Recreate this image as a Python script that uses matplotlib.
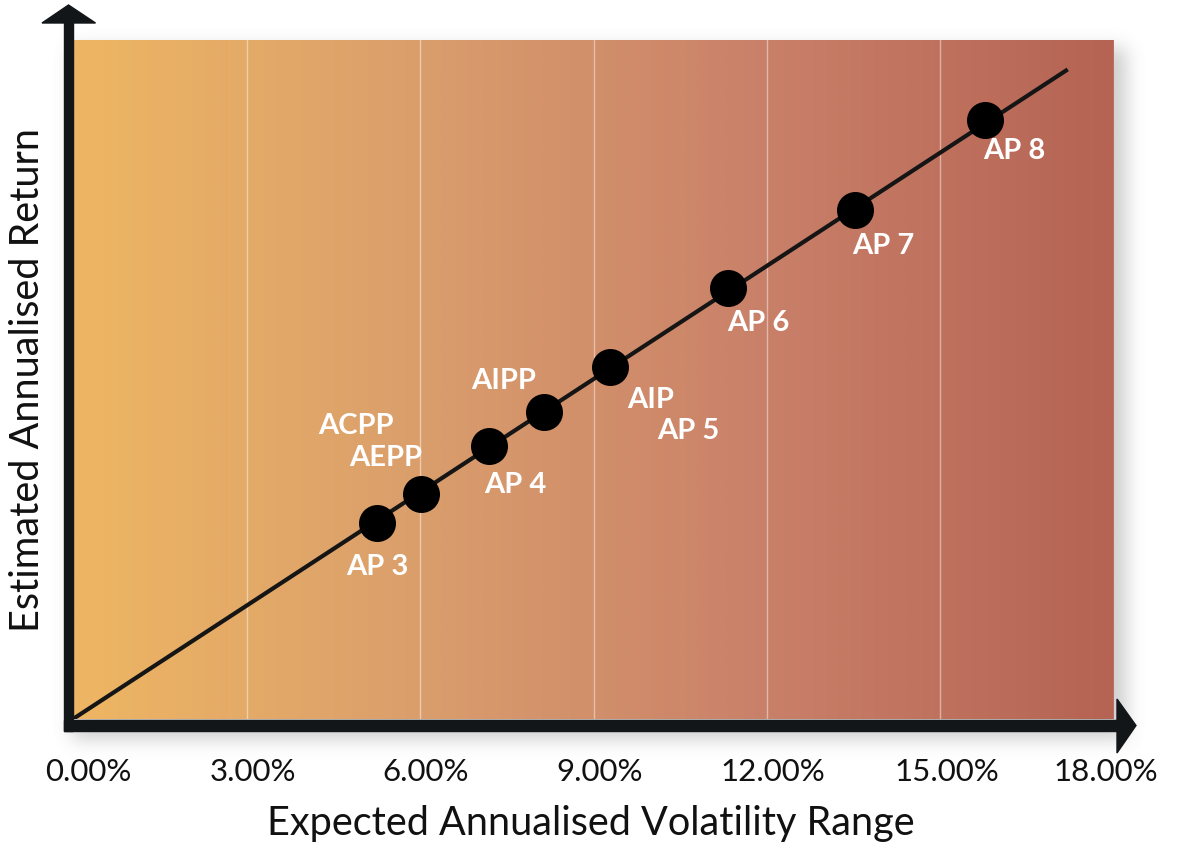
import numpy as np
import matplotlib
matplotlib.use("Agg")
import matplotlib.pyplot as plt
from matplotlib.patches import Polygon, Rectangle
from matplotlib.colors import LinearSegmentedColormap

# ---- data -------------------------------------------------------------
portfolio_names = [["AP 3"], ["ACPP", "AEPP"], ["AP 4"], ["AIPP"],
                   ["AIP", "AP 5"], ["AP 6"], ["AP 7"], ["AP 8"]]
volatility = [5.25, 6.02, 7.20, 8.15, 9.29, 11.33, 13.53, 15.77]   # %
expected_return = [3.46, 3.98, 4.83, 5.42, 6.22, 7.61, 9.00, 10.59]
trend_x = [0.0, 17.20]
trend_y = [0.0, 11.48]
x_ticks = [0, 3, 6, 9, 12, 15, 18]
x_tick_labels = ["0.00%", "3.00%", "6.00%", "9.00%", "12.00%", "15.00%", "18.00%"]
x_title = "Expected Annualised Volatility Range"
y_title = "Estimated Annualised Return"

# ---- label placement (pixel offsets from each marker) -------------------
label_offsets = {
    "AP 3": (1, -44), "ACPP": (-65, 68), "AEPP": (-36, 36),
    "AP 4": (26, -39), "AIPP": (-41, 31), "AIP": (40, -33),
    "AP 5": (78, -64), "AP 6": (30, -35), "AP 7": (28, -36),
    "AP 8": (29, -31),
}

W, H, DPI = 1177, 852, 100
fig = plt.figure(figsize=(W / DPI, H / DPI), dpi=DPI)
fig.patch.set_facecolor("white")


def fx(px):
    return px / W


def fy(py):
    return 1 - py / H


left, right, top, bottom = 73, 1114, 40, 719
ax = fig.add_axes([fx(left), fy(bottom), fx(right - left), (bottom - top) / H])
ax.set_xlim(0, 18)
ax.set_ylim(0, 12)
for s in ax.spines.values():
    s.set_visible(False)
ax.set_xticks([])
ax.set_yticks([])

# soft drop shadow behind the plot panel
mask = np.zeros((H, W))
mask[40 + 8:731 + 8, 64 + 8:1118 + 8] = 1.0
sigma = 9
k = np.arange(-3 * sigma, 3 * sigma + 1)
g = np.exp(-k ** 2 / (2 * sigma ** 2))
g /= g.sum()
blur = np.apply_along_axis(lambda r: np.convolve(r, g, mode="same"), 1, mask)
blur = np.apply_along_axis(lambda c: np.convolve(c, g, mode="same"), 0, blur)
shadow = np.zeros((H, W, 4))
shadow[..., :3] = 0.45
shadow[..., 3] = blur * 0.35
fig.figimage(shadow, 0, 0, origin="upper", zorder=-1, resize=False)

# horizontal colour gradient background
cmap = LinearSegmentedColormap.from_list(
    "warm", ["#EEB663", "#DA9E6C", "#C98069", "#B56353"])
grad = np.linspace(0, 1, 512).reshape(1, -1)
ax.imshow(grad, extent=[0, 18, 0, 12], aspect="auto", cmap=cmap,
          origin="lower", zorder=0, interpolation="bilinear")

# vertical grid lines
for t in x_ticks[1:]:
    ax.axvline(t, color="white", alpha=0.45, lw=1.0, zorder=1)

# trend line and portfolio markers
ax.plot(trend_x, trend_y, color="#151515", lw=3.0, zorder=2,
        solid_capstyle="butt")
ax.scatter(volatility, expected_return, s=710, color="black", zorder=3,
           linewidths=0)

for x, y, names in zip(volatility, expected_return, portfolio_names):
    for name in names:
        dx, dy = label_offsets[name]
        ax.annotate(name, (x, y), xytext=(dx, dy), textcoords="offset pixels",
                    ha="center", va="center", color="white",
                    fontsize=21, fontweight="bold", family="Lato", zorder=4)

# axis bars with arrowheads, drawn in figure space
ink = "#121618"
fig.add_artist(Rectangle((fx(64), fy(731)), fx(73 - 64), (731 - 20) / H,
                         transform=fig.transFigure, color=ink, zorder=5))
fig.add_artist(Rectangle((fx(64), fy(731)), fx(1119 - 64), (731 - 720) / H,
                         transform=fig.transFigure, color=ink, zorder=5))
fig.add_artist(Polygon([(fx(42), fy(23)), (fx(95.5), fy(23)), (fx(68.5), fy(5))],
                       closed=True, transform=fig.transFigure, color=ink, zorder=5))
fig.add_artist(Polygon([(fx(1117), fy(699)), (fx(1117), fy(753)), (fx(1136), fy(725.5))],
                       closed=True, transform=fig.transFigure, color=ink, zorder=5))

# tick labels along the x axis
for t, lab in zip(x_ticks, x_tick_labels):
    px = left + (right - left) * t / 18
    if t == 0:
        px += 15
    elif t == 18:
        px -= 8
    else:
        px += 6
    fig.text(fx(px), fy(772), lab, ha="center", va="center",
             fontsize=22.5, family="Lato", color="#111111")

fig.text(fx(591), fy(824), x_title, ha="center", va="center",
         fontsize=28.5, family="Lato", color="#111111")
fig.text(fx(28), fy(380), y_title, ha="center", va="center", rotation=90,
         fontsize=28.5, family="Lato", color="#111111")

fig.savefig("out.png", dpi=DPI)
